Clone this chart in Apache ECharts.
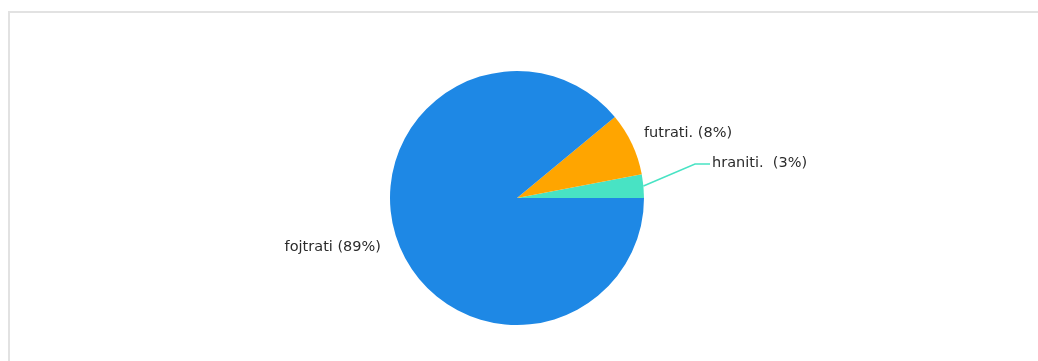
<!DOCTYPE html>
<html>
<head>
<meta charset="utf-8">
<script src="https://cdn.jsdelivr.net/npm/echarts@6/dist/echarts.min.js"></script>
<style>
  html, body { margin: 0; padding: 0; background: #ffffff; }
  #chart { width: 1038px; height: 361px; }
</style>
</head>
<body>
<div id="chart"></div>
<script>
// Answer shares, drawn counterclockwise from 3 o'clock
const categories = ['hraniti. ', 'futrati.', 'fojtrati'];
const shares = [3, 8, 89];
const sliceColors = ['#48e3c4', '#ffa500', '#1e88e5'];

const chart = echarts.init(document.getElementById('chart'), null, { renderer: 'canvas' });

const pieData = categories.map((name, i) => ({
  name: name,
  value: shares[i],
  itemStyle: { color: sliceColors[i] },
  labelLine: { show: i === 0 }
}));

// Label placement per slice: anchor point, text alignment and, for the
// small slice, the bend of its connector line.
const labelPlacement = [
  { x: 712, y: 163, align: 'left', bend: [695, 164], tail: [710, 164] },
  { x: 644, y: 133, align: 'left' },
  { x: 381, y: 247, align: 'right' }
];

chart.setOption({
  animation: false,
  backgroundColor: '#ffffff',
  graphic: [{
    type: 'rect',
    shape: { x: 9, y: 12, width: 1100, height: 400 },
    style: { fill: 'none', stroke: '#e2e2e2', lineWidth: 2 },
    silent: true
  }],
  series: [{
    type: 'pie',
    center: [517, 198],
    radius: 127,
    startAngle: 0,
    clockwise: false,
    avoidLabelOverlap: false,
    data: pieData,
    label: {
      show: true,
      position: 'outside',
      formatter: '{b} ({d}%)',
      color: '#2b2b2b',
      fontFamily: 'DejaVu Sans',
      fontSize: 14.5
    },
    labelLine: {
      length: 15,
      length2: 15,
      lineStyle: { width: 1.5 }
    },
    labelLayout: function (params) {
      const p = labelPlacement[params.dataIndex];
      const out = { x: p.x, y: p.y, align: p.align, verticalAlign: 'middle' };
      if (p.bend && params.labelLinePoints) {
        out.labelLinePoints = [params.labelLinePoints[0], p.bend, p.tail];
      }
      return out;
    },
    itemStyle: { borderWidth: 0 },
    emphasis: { disabled: true }
  }]
});
</script>
</body>
</html>
